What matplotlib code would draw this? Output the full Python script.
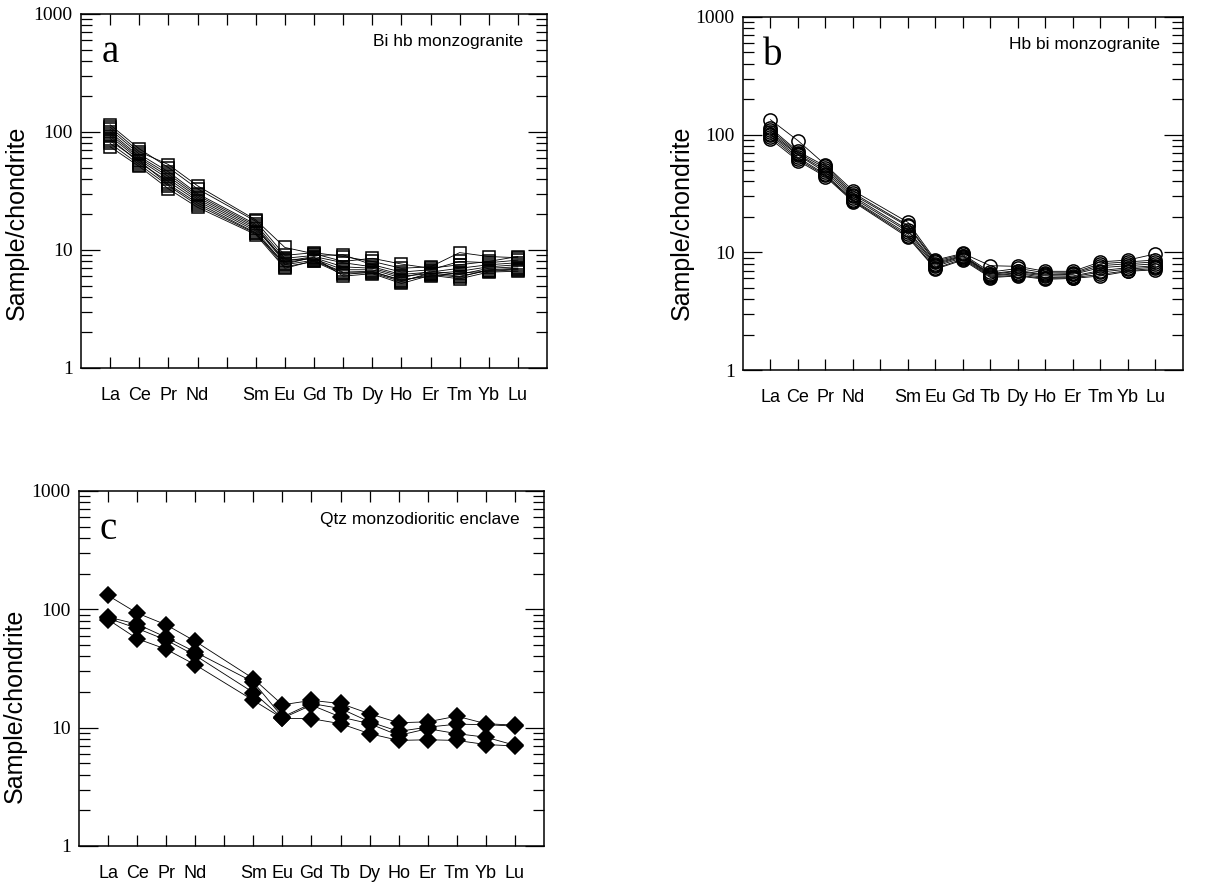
import matplotlib
matplotlib.use('Agg')
import matplotlib.pyplot as plt
from matplotlib.ticker import LogLocator, NullFormatter, FixedLocator

# REE order (Pm has a tick but no label / no data)
elements = ['La', 'Ce', 'Pr', 'Nd', 'Pm', 'Sm', 'Eu', 'Gd', 'Tb', 'Dy', 'Ho', 'Er', 'Tm', 'Yb', 'Lu']
measured = ['La', 'Ce', 'Pr', 'Nd', 'Sm', 'Eu', 'Gd', 'Tb', 'Dy', 'Ho', 'Er', 'Tm', 'Yb', 'Lu']

# Bi hb monzogranite (panel a), sample/chondrite
bi_hb = [
    [115, 72, 50, 33, 17.5, 9.0, 9.5, 8.8, 8.0, 7.0, 7.2, 9.5, 8.8, 8.6],
    [110, 68, 53, 35, 18.0, 10.5, 9.3, 8.0, 8.5, 7.6, 7.0, 7.5, 8.0, 8.8],
    [105, 65, 46, 30, 16.5, 8.5, 9.0, 9.1, 7.5, 6.5, 6.8, 8.0, 7.8, 8.2],
    [100, 62, 44, 29, 16.0, 8.0, 8.8, 7.8, 7.2, 6.2, 6.5, 7.0, 7.5, 7.8],
    [96, 60, 42, 28, 15.5, 7.8, 8.6, 7.2, 7.0, 6.0, 6.3, 6.6, 7.2, 7.5],
    [92, 58, 40, 27, 15.0, 8.3, 8.4, 6.8, 6.8, 5.8, 6.6, 6.2, 7.0, 7.2],
    [88, 55, 38, 26, 14.5, 7.5, 8.2, 6.5, 6.6, 5.5, 6.2, 5.9, 6.8, 7.0],
    [84, 57, 36, 25, 14.0, 7.2, 8.0, 6.2, 6.5, 5.6, 6.0, 6.4, 6.6, 6.8],
    [80, 53, 35, 24, 13.8, 7.6, 8.7, 6.0, 6.3, 5.2, 6.1, 5.7, 6.5, 6.6],
    [75, 51, 33, 23, 13.5, 7.0, 8.1, 6.4, 6.4, 5.4, 6.4, 6.0, 6.7, 6.9],
]

# Hb bi monzogranite (panel b)
hb_bi = [
    [134, 89, 55.4, 33.5, 18.0, 8.6, 9.8, 7.7, 7.6, 6.9, 6.9, 8.3, 8.6, 9.7],
    [114, 72, 54, 32, 17.0, 8.4, 9.6, 6.8, 7.3, 6.7, 6.7, 8.0, 8.3, 8.6],
    [110, 70, 52, 31, 16.6, 8.2, 9.4, 6.6, 7.0, 6.5, 6.6, 7.7, 8.0, 8.3],
    [106, 68, 50, 30, 15.5, 8.0, 9.3, 6.5, 6.9, 6.4, 6.5, 7.4, 7.7, 8.0],
    [102, 67, 48, 29, 15.0, 7.8, 9.2, 6.4, 6.7, 6.3, 6.3, 7.0, 7.4, 7.7],
    [100, 64, 46, 28, 14.3, 7.6, 9.0, 6.3, 6.6, 6.1, 6.2, 6.8, 7.2, 7.5],
    [96, 62, 45, 27.5, 13.8, 7.3, 8.8, 6.2, 6.4, 6.0, 6.1, 6.5, 7.0, 7.3],
    [92, 60, 44, 27, 13.4, 7.2, 8.6, 6.1, 6.3, 5.9, 6.0, 6.3, 6.9, 7.1],
]

# Qtz monzodioritic enclave (panel c)
enclave = [
    [131, 93, 74, 53.7, 26.0, 15.6, 17.0, 16.0, 13.1, 11.0, 11.2, 12.5, 10.8, 10.5],
    [86, 75, 58, 43.6, 24.3, 12.3, 16.0, 14.5, 11.2, 9.3, 10.1, 10.7, 10.6, 10.3],
    [84, 69, 55, 40.8, 19.8, 12.0, 15.5, 12.3, 10.8, 8.6, 9.8, 8.9, 8.3, 7.1],
    [82, 56.5, 46, 34.0, 17.0, 12.0, 11.9, 10.8, 8.9, 7.8, 7.9, 7.8, 7.2, 7.0],
]


def draw_panel(ax, samples, marker, ms, filled, letter, name, ylab_y):
    xs = [elements.index(e) + 1 for e in measured]
    for vals in samples:
        ax.plot(xs, vals, color='black', lw=0.6, marker=marker, ms=ms,
                mfc='black' if filled else 'none', mec='black', mew=1.1, zorder=3)

    # Axes
    ax.set_yscale('log')
    ax.set_ylim(1, 1000)
    ax.set_xlim(0, 16)
    ax.yaxis.set_major_locator(FixedLocator([1, 10, 100, 1000]))
    ax.yaxis.set_minor_locator(LogLocator(base=10, subs=range(2, 10)))
    ax.yaxis.set_minor_formatter(NullFormatter())
    ax.set_yticklabels(['1', '10', '100', '1000'], fontfamily='Liberation Serif', fontsize=14)
    ax.set_xticks(range(1, 16))
    ax.set_xticklabels(['' if e == 'Pm' else e for e in elements],
                       fontfamily='Liberation Sans', fontsize=13)
    ax.tick_params(axis='both', which='both', direction='in', top=True, right=True, width=0.9)
    ax.tick_params(axis='x', length=8, pad=14)
    ax.tick_params(axis='y', which='major', length=14, pad=6)
    ax.tick_params(axis='y', which='minor', length=8)
    for sp in ax.spines.values():
        sp.set_linewidth(1.1)

    # Labels
    ax.set_ylabel('Sample/chondrite', fontfamily='Liberation Sans', fontsize=18)
    ax.yaxis.set_label_coords(-0.112, ylab_y)

    # Title
    ax.text(0.045, 0.865, letter, transform=ax.transAxes, fontfamily='Liberation Serif',
            fontsize=28, ha='left', va='baseline')
    ax.text(0.948, 0.921, name, transform=ax.transAxes, fontfamily='Liberation Sans',
            fontsize=12.5, ha='right', va='center')


fig = plt.figure(figsize=(12.11, 8.85), dpi=100)
ax_a = fig.add_axes([0.0669, 0.5842, 0.3848, 0.4000])
ax_b = fig.add_axes([0.6135, 0.5819, 0.3633, 0.3989])
ax_c = fig.add_axes([0.0652, 0.0441, 0.3840, 0.4011])

draw_panel(ax_a, bi_hb, 's', 8.5, False, 'a', 'Bi hb monzogranite', 0.41)
draw_panel(ax_b, hb_bi, 'o', 9.5, False, 'b', 'Hb bi monzogranite', 0.416)
draw_panel(ax_c, enclave, 'D', 8, True, 'c', 'Qtz monzodioritic enclave', 0.394)

fig.savefig('out.png', dpi=100)
